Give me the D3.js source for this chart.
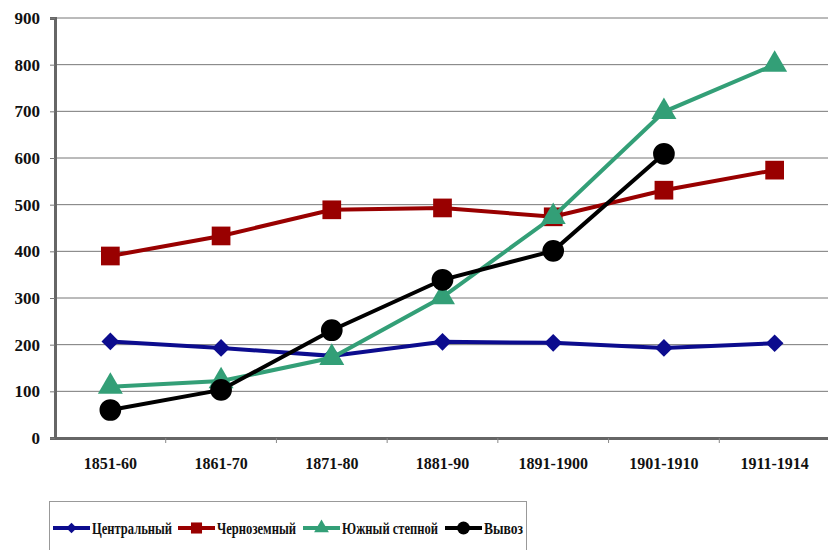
<!DOCTYPE html>
<html>
<head>
<meta charset="utf-8">
<script src="https://cdn.jsdelivr.net/npm/d3@7"></script>
<style>
  body { margin: 0; background: #fff; }
</style>
</head>
<body>
<div id="chart"></div>
<script>
var width = 828;
var height = 550;
var font = "'Liberation Serif', 'Times New Roman', 'DejaVu Serif', serif";

var periods = ["1851-60", "1861-70", "1871-80", "1881-90", "1891-1900", "1901-1910", "1911-1914"];
var yTicks = [0, 100, 200, 300, 400, 500, 600, 700, 800, 900];

var central = [207, 193, 176, 206, 204, 193, 203];
var chernozem = [390, 433, 489, 493, 474, 531, 574];
var south = [110, 122, 172, 302, 474, 699, 800];
var exportVals = [60, 103, 231, 339, 401, 609];

var seriesNames = ["Центральный", "Черноземный", "Южный степной", "Вывоз"];
var seriesValues = [central, chernozem, south, exportVals];
var seriesColors = ["#0c0c8e", "#990000", "#339f77", "#000000"];
var seriesSymbols = [d3.symbolDiamond2, d3.symbolSquare, d3.symbolTriangle, d3.symbolCircle];
var markerSizes = [200, 350, 270, 370];

var margin = {top: 18, right: -2, bottom: 112, left: 55};

var svg = d3.select("#chart").append("svg")
    .attr("width", width)
    .attr("height", height)
    .attr("font-family", font)
    .attr("font-weight", "bold");

var x = d3.scaleBand()
    .domain(periods)
    .range([margin.left, width - margin.right]);

var y = d3.scaleLinear()
    .domain([0, 900])
    .range([height - margin.bottom, margin.top]);

// grid
svg.append("g")
  .selectAll("line")
  .data(yTicks.slice(1))
  .join("line")
    .attr("x1", margin.left)
    .attr("x2", width)
    .attr("y1", d => y(d))
    .attr("y2", d => y(d))
    .attr("stroke", "#777")
    .attr("stroke-width", 1);

// y axis
var yAxis = svg.append("g")
    .attr("transform", "translate(" + margin.left + ",0)")
    .call(d3.axisLeft(y).tickValues(yTicks).tickSize(5).tickPadding(10));
yAxis.attr("font-family", font);
yAxis.select(".domain").attr("stroke", "#666").attr("stroke-width", 3);
yAxis.selectAll(".tick line").attr("stroke", "#777");
yAxis.selectAll("text").attr("font-size", 17).attr("fill", "#111");

// x axis
var xAxis = svg.append("g")
    .attr("transform", "translate(0," + y(0) + ")")
    .call(d3.axisBottom(x).tickSize(0).tickPadding(20));
xAxis.attr("font-family", font);
xAxis.select(".domain").attr("stroke", "#666").attr("stroke-width", 3);
xAxis.selectAll("text").attr("font-size", 16).attr("fill", "#111");

svg.append("g")
  .selectAll("line")
  .data(periods.slice(1))
  .join("line")
    .attr("x1", d => x(d))
    .attr("x2", d => x(d))
    .attr("y1", y(0))
    .attr("y2", y(0) + 5)
    .attr("stroke", "#888");

var line = d3.line()
    .x((d, i) => x(periods[i]) + x.bandwidth() / 2)
    .y(d => y(d));

seriesValues.forEach(function(vals, s) {
  var g = svg.append("g");
  g.append("path")
    .datum(vals)
    .attr("d", line)
    .attr("fill", "none")
    .attr("stroke", seriesColors[s])
    .attr("stroke-width", 4);
  g.selectAll("path.m")
    .data(vals)
    .join("path")
      .attr("class", "m")
      .attr("d", d3.symbol().type(seriesSymbols[s]).size(markerSizes[s]))
      .attr("transform", (d, i) => "translate(" + (x(periods[i]) + x.bandwidth() / 2) + "," + y(d) + ")")
      .attr("fill", seriesColors[s]);
});

// legend
var legend = svg.append("g");
legend.append("rect")
    .attr("x", 49.5)
    .attr("y", 501.5)
    .attr("width", 477)
    .attr("height", 60)
    .attr("fill", "#fff")
    .attr("stroke", "#999");

var legendX = [53, 178, 303, 445];
var legendTextW = [80, 79, 96, 39];
seriesNames.forEach(function(name, s) {
  var lg = legend.append("g").attr("transform", "translate(" + legendX[s] + ",528)");
  lg.append("line")
    .attr("x1", 0).attr("x2", 37)
    .attr("y1", 0).attr("y2", 0)
    .attr("stroke", seriesColors[s])
    .attr("stroke-width", 4);
  lg.append("path")
    .attr("d", d3.symbol().type(seriesSymbols[s]).size(markerSizes[s] * 0.35))
    .attr("transform", "translate(18.5,0)")
    .attr("fill", seriesColors[s]);
  lg.append("text")
    .attr("x", 39)
    .attr("y", 6)
    .attr("font-size", 17)
    .attr("textLength", legendTextW[s])
    .attr("lengthAdjust", "spacingAndGlyphs")
    .attr("fill", "#111")
    .text(name);
});
</script>
</body>
</html>
